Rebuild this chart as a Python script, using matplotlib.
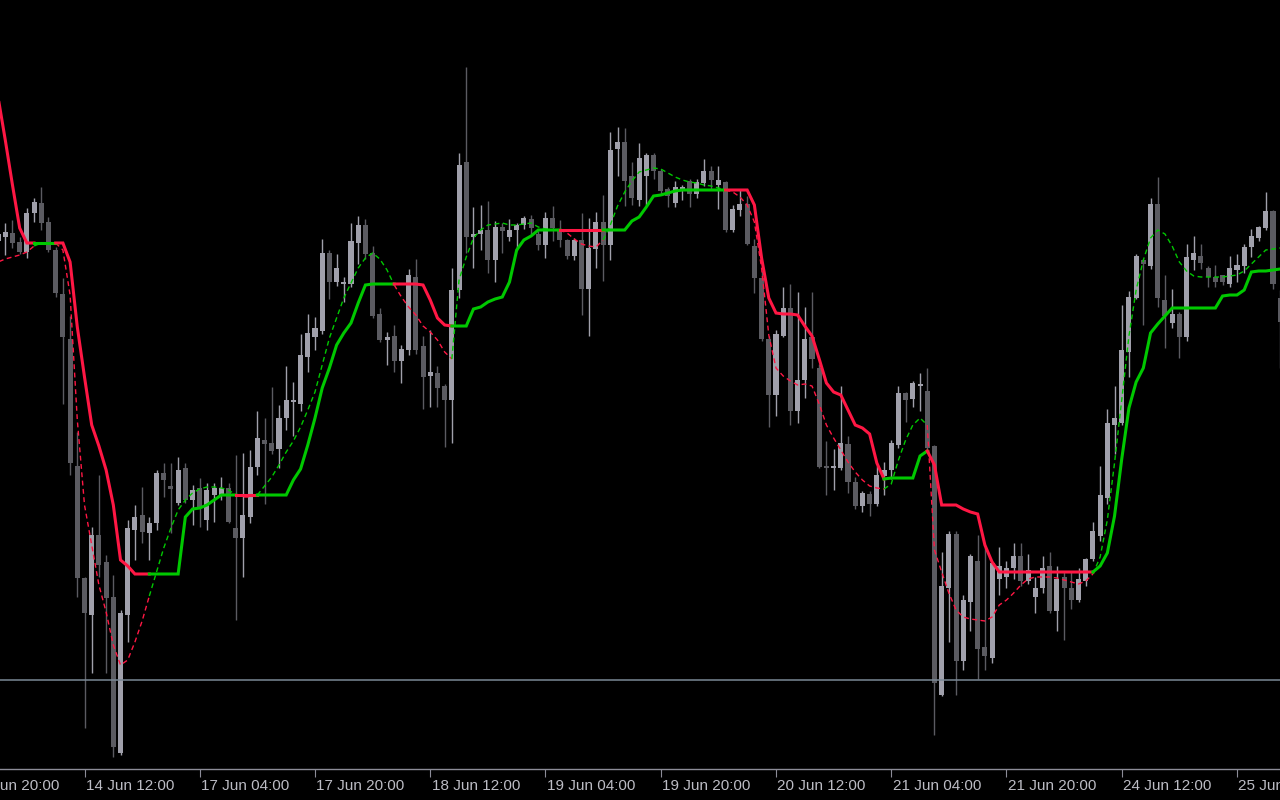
import numpy as np
import pandas as pd
import matplotlib
matplotlib.use("Agg")
import matplotlib.pyplot as plt
from matplotlib.transforms import blended_transform_factory

# H1 candles, price in points (first bar = 14 Jun 00:00, partly off-screen)
opens = [559,
 563, 567, 558, 548, 587, 597, 578, 550, 506, 461,
 334, 222, 185, 265, 238, 203, 47, 185, 270, 285,
 267, 277, 327, 314, 297, 332, 300, 312, 280, 305,
 305, 312, 272, 262, 283, 333, 360, 357, 351, 382,
 398, 396, 443, 463, 469, 547, 518, 516, 516, 557,
 575, 547, 486, 460, 464, 439, 450, 523, 454, 424,
 427, 414, 400, 510, 638, 563, 566, 570, 540, 573,
 563, 570, 575, 581, 566, 555, 582, 570, 560, 544,
 560, 511, 551, 578, 555, 651, 658, 624, 600, 624,
 645, 629, 611, 597, 609, 619, 606, 617, 629, 615,
 618, 570, 590, 596, 554, 522, 461, 405, 464, 492,
 389, 420, 463, 432, 334, 332, 332, 356, 318, 294,
 306, 296, 324, 330, 355, 407, 401, 414, 409, 354,
 105, 212, 266, 139, 198, 239, 153, 142, 221, 223,
 232, 244, 219, 203, 212, 234, 189, 223, 212, 200,
 219, 241, 264, 302, 375, 377, 448, 502, 540, 534,
 596, 500, 477, 486, 463, 540, 544, 532, 523, 525,
 516, 530, 534, 553, 562, 572, 589, 502]

highs = [574,
 577, 580, 563, 592, 602, 613, 583, 553, 522, 484,
 368, 223, 273, 325, 245, 225, 190, 280, 295, 313,
 283, 330, 337, 337, 343, 337, 315, 322, 317, 317,
 323, 317, 345, 347, 350, 389, 382, 413, 395, 434,
 418, 466, 486, 483, 561, 550, 546, 523, 577, 584,
 581, 554, 492, 468, 475, 455, 531, 541, 464, 470,
 434, 416, 532, 647, 733, 593, 595, 599, 579, 577,
 581, 577, 584, 585, 569, 588, 594, 580, 561, 562,
 587, 582, 588, 605, 668, 673, 672, 638, 657, 647,
 647, 631, 613, 619, 615, 621, 621, 641, 634, 634,
 619, 595, 611, 604, 561, 529, 464, 470, 513, 516,
 508, 493, 508, 436, 359, 351, 414, 364, 323, 309,
 309, 334, 338, 360, 414, 408, 419, 427, 432, 355,
 248, 269, 269, 205, 246, 265, 253, 239, 253, 239,
 257, 257, 246, 223, 244, 248, 234, 228, 228, 232,
 242, 278, 334, 391, 414, 495, 509, 546, 541, 602,
 623, 525, 511, 488, 556, 564, 556, 534, 535, 525,
 544, 546, 556, 571, 574, 608, 590, 510]

lows = [542,
 545, 552, 546, 542, 578, 570, 548, 503, 396, 325,
 203, 72, 127, 223, 127, 43, 45, 158, 240, 257,
 240, 270, 303, 267, 295, 297, 275, 273, 270, 278,
 300, 277, 180, 223, 277, 325, 296, 346, 332, 370,
 364, 389, 428, 450, 466, 501, 514, 498, 513, 536,
 541, 482, 458, 435, 428, 417, 445, 446, 391, 393,
 393, 353, 357, 502, 547, 532, 550, 527, 518, 547,
 559, 550, 571, 566, 550, 542, 559, 553, 541, 540,
 485, 464, 532, 519, 540, 624, 594, 595, 594, 595,
 621, 606, 593, 593, 600, 593, 602, 614, 611, 591,
 568, 568, 584, 555, 507, 459, 373, 384, 463, 375,
 377, 402, 432, 332, 305, 310, 330, 307, 291, 288,
 284, 294, 305, 321, 352, 378, 393, 389, 350, 65,
 104, 158, 105, 130, 169, 121, 130, 137, 205, 212,
 221, 214, 216, 187, 207, 187, 169, 160, 191, 198,
 214, 239, 259, 296, 346, 375, 423, 501, 475, 531,
 493, 452, 472, 442, 459, 530, 531, 513, 513, 515,
 513, 518, 527, 543, 559, 570, 511, 432]

closes = [566,
 568, 557, 548, 587, 598, 577, 550, 507, 463, 337,
 222, 187, 265, 235, 202, 53, 187, 272, 283, 268,
 277, 327, 320, 311, 330, 300, 310, 292, 310, 312,
 312, 278, 262, 285, 333, 362, 356, 349, 382, 400,
 400, 445, 467, 472, 547, 518, 532, 518, 559, 575,
 546, 484, 460, 463, 439, 451, 525, 450, 423, 428,
 412, 400, 510, 635, 563, 566, 570, 540, 573, 569,
 570, 575, 582, 572, 555, 582, 572, 560, 544, 560,
 511, 552, 578, 555, 650, 658, 619, 602, 642, 645,
 629, 609, 604, 613, 613, 606, 618, 629, 620, 620,
 570, 591, 596, 556, 522, 461, 405, 466, 492, 389,
 420, 461, 441, 333, 332, 334, 357, 318, 294, 307,
 296, 325, 330, 357, 407, 400, 417, 416, 352, 117,
 214, 266, 139, 200, 244, 151, 144, 237, 234, 232,
 244, 219, 230, 212, 232, 189, 221, 212, 200, 221,
 241, 269, 305, 377, 382, 450, 503, 544, 536, 596,
 502, 484, 486, 463, 543, 547, 537, 523, 518, 518,
 532, 535, 553, 564, 573, 589, 516, 478]

# trailing stop (thick) and fast line (dashed)
trail = [703,
 660, 615, 572, 557, 557, 557, 557, 557, 557, 538,
 473, 423, 375, 354, 330, 295, 240, 234, 226, 226,
 226, 226, 226, 226, 226, 283, 291, 292, 295, 300,
 305, 305, 305, 305, 305, 305, 305, 305, 305, 305,
 320, 331, 355, 382, 412, 432, 455, 467, 477, 497,
 515, 516, 516, 516, 516, 516, 516, 516, 515, 500,
 482, 475, 474, 474, 474, 491, 493, 498, 501, 503,
 518, 550, 560, 564, 570, 570, 570, 570, 570, 570,
 570, 570, 570, 570, 570, 570, 570, 579, 583, 593,
 604, 605, 607, 609, 610, 610, 610, 610, 610, 610,
 610, 610, 610, 610, 595, 542, 502, 487, 486, 486,
 485, 474, 464, 441, 417, 408, 405, 390, 375, 372,
 366, 337, 321, 322, 322, 322, 322, 344, 349, 335,
 295, 295, 295, 291, 288, 286, 255, 238, 228, 228,
 228, 228, 228, 228, 228, 228, 228, 228, 228, 228,
 228, 228, 234, 247, 284, 341, 392, 418, 432, 467,
 476, 484, 492, 492, 492, 492, 492, 492, 492, 504,
 505, 505, 510, 528, 529, 529, 530, 531]

fast = [538,
 541, 543, 545, 548, 554, 557, 557, 557, 550, 505,
 380, 295, 255, 215, 188, 155, 135, 140, 158, 179,
 204, 228, 252, 272, 290, 300, 307, 311, 313, 313,
 312, 310, 305, 303, 303, 305, 314, 323, 335, 348,
 359, 373, 390, 408, 435, 462, 482, 502, 517, 532,
 542, 547, 541, 530, 515, 503, 493, 485, 474, 468,
 460, 448, 441, 520, 543, 562, 570, 575, 576, 577,
 575, 575, 576, 577, 573, 571, 570, 570, 567, 561,
 556, 554, 553, 560, 575, 594, 608, 619, 628, 630,
 632, 631, 627, 623, 620, 618, 617, 615, 614, 612,
 610, 608, 603, 595, 578, 532, 465, 432, 424, 419,
 415, 416, 414, 396, 375, 362, 350, 338, 328, 320,
 314, 312, 311, 316, 340, 360, 375, 382, 375, 250,
 228, 207, 190, 183, 181, 180, 179, 183, 195, 200,
 207, 215, 221, 223, 223, 223, 222, 220, 218, 216,
 219, 226, 243, 280, 337, 400, 464, 510, 540, 562,
 570, 566, 554, 538, 529, 524, 523, 523, 523, 523,
 524, 525, 529, 536, 543, 550, 551, 552]

# trend of each bar (colour of the segment ending on it): runs of down/up
trend_runs = [("d", 6), ("u", 3), ("d", 13), ("u", 12), ("d", 3), ("u", 19), ("d", 8),
              ("u", 15), ("d", 6), ("u", 17), ("d", 22), ("u", 6), ("d", 23), ("u", 26)]
level = 120  # horizontal line

BG = "#000000"
BULL = "#a0a0ab"
BEAR = "#5b5b61"
UP = "#00c800"
DOWN = "#ff1744"
AXC = "#8c8c98"
TXT = "#bcbcc4"

o = np.array(opens, float)
h = np.array(highs, float)
l = np.array(lows, float)
c = np.array(closes, float)
n = len(o)
x = np.arange(n)
trend = "".join(t * k for t, k in trend_runs)

# hourly time axis, weekends skipped
hours = pd.date_range("2019-06-13 20:00", "2019-06-26 23:00", freq="h")
hours = hours[hours.dayofweek < 5]
first = list(hours).index(pd.Timestamp("2019-06-14 00:00"))
tick_j = np.arange(0, first + n, 16)
tick_pos = tick_j - first
tick_lab = [f"{hours[j].day} {hours[j]:%b %H:%M}" for j in tick_j]

fig = plt.figure(figsize=(12.8, 8), dpi=100, facecolor=BG)
ax = fig.add_axes([0, 31 / 800, 1, 769 / 800])
ax.set_facecolor(BG)

# pixel layout of MT chart: bar 0 at x=-1.93 px, 7.203 px per bar
px0, step = -1.933, 7.203
ax.set_xlim((0 - px0) / step, (1280 - px0) / step)
ax.set_ylim(31, 800)

# candles
bull = c >= o
cols = np.where(bull, BULL, BEAR)
ax.vlines(x, l, h, colors=cols, lw=1.0, zorder=2)
lo = np.minimum(o, c)
hgt = np.maximum(np.abs(c - o), 1.3)
ax.bar(x, hgt, width=0.7, bottom=lo, color=cols, linewidth=0, zorder=3)

ax.axhline(level, color="#7a8896", lw=1.1, zorder=4)


def trend_line(vals, **kw):
    vals = np.asarray(vals, float)
    start = 1
    for k in range(2, n + 1):
        if k == n or trend[k] != trend[start]:
            seg = slice(start - 1, k)
            col = UP if trend[start] == "u" else DOWN
            ax.plot(x[seg], vals[seg], color=col, **kw)
            start = k


trend_line(fast, lw=1.0, ls=(0, (3.5, 2.5)), zorder=5)
trend_line(trail, lw=2.2, solid_joinstyle="miter", zorder=6)

# axes / ticks like the terminal
for s in ["top", "left", "right"]:
    ax.spines[s].set_visible(False)
ax.spines["bottom"].set_color(AXC)
ax.spines["bottom"].set_linewidth(1.0)
ax.set_yticks([])
lo_x, hi_x = ax.get_xlim()
ax.set_xticks([p for p in tick_pos if lo_x <= p <= hi_x])
ax.tick_params(axis="x", length=5.5, width=0.8, color=AXC, labelbottom=False)

tr = blended_transform_factory(ax.transData, ax.transAxes)
for p, lab in zip(tick_pos, tick_lab):
    ax.text(p + 0.2, -17 / 769, lab, transform=tr, ha="left", va="center",
            color=TXT, fontsize=11, family="Liberation Sans", clip_on=False)

fig.savefig("out.png", dpi=100, facecolor=BG)
